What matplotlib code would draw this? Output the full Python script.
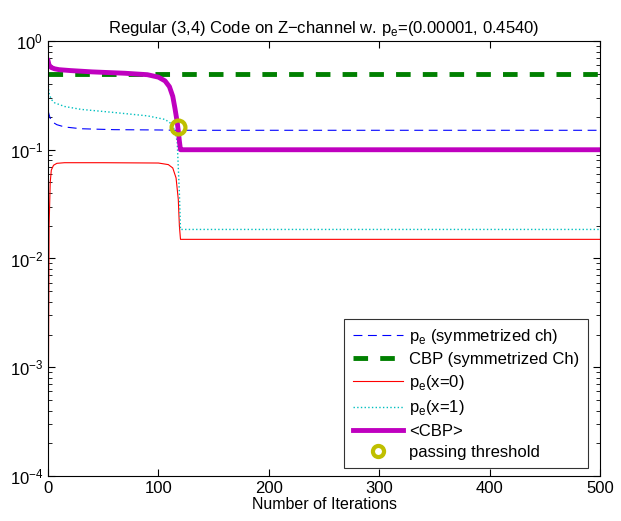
import matplotlib
matplotlib.use("Agg")
import matplotlib.pyplot as plt
from matplotlib.ticker import LogLocator, NullFormatter

plt.rcParams['font.family'] = ['Liberation Sans', 'DejaVu Sans']

# pe on symmetrized channel
it_pe = [0, 1, 2, 4, 8, 15, 30, 60, 100, 119, 500]
pe_sym = [0.23, 0.21, 0.195, 0.18, 0.17, 0.162, 0.156, 0.153, 0.152, 0.151, 0.151]

# CBP on symmetrized channel
it_cbp = [0, 500]
cbp_sym = [0.5, 0.5]

# pe(x=0)
it_x0 = [0, 1, 2, 3, 5, 8, 15, 50, 100, 109, 113, 116, 118, 119, 120, 500]
pe_x0 = [0.0001, 0.02, 0.05, 0.065, 0.072, 0.075, 0.076, 0.076, 0.0755, 0.073, 0.068, 0.055, 0.035, 0.02, 0.015, 0.015]

# pe(x=1)
it_x1 = [0, 1, 3, 6, 15, 30, 60, 90, 106, 113, 117, 119, 120, 500]
pe_x1 = [0.42, 0.33, 0.29, 0.27, 0.25, 0.235, 0.22, 0.205, 0.19, 0.17, 0.12, 0.04, 0.0185, 0.0185]

# <CBP>
it_avg = [0, 1, 3, 6, 10, 20, 40, 70, 90, 100, 106, 110, 113, 115, 117, 118, 119, 120, 121, 500]
cbp_avg = [0.66, 0.6, 0.57, 0.555, 0.545, 0.535, 0.52, 0.505, 0.49, 0.465, 0.43, 0.38, 0.31, 0.24, 0.18, 0.15, 0.12, 0.1, 0.1, 0.1]

# passing threshold
thr_it = [118]
thr_val = [0.163]

fig = plt.figure(figsize=(6.21, 5.21), dpi=100)
ax = fig.add_axes([0.0773, 0.0864, 0.8889, 0.8349])

ax.semilogy(it_pe, pe_sym, '--', color='b', lw=0.8, dashes=(8, 5), label='p$_\\mathregular{e}$ (symmetrized ch)')
ax.semilogy(it_cbp, cbp_sym, '--', color=(0, 0.5, 0), lw=3.5, dashes=(3, 2.5), label='CBP (symmetrized Ch)')
ax.semilogy(it_x0, pe_x0, '-', color='r', lw=0.8, label='p$_\\mathregular{e}$(x=0)')
ax.semilogy(it_x1, pe_x1, ':', color='c', lw=1.0, label='p$_\\mathregular{e}$(x=1)')
ax.semilogy(it_avg, cbp_avg, '-', color=(0.75, 0, 0.75), lw=3.5, label='<CBP>')
ax.semilogy(thr_it, thr_val, 'o', color=(0.75, 0.75, 0), mfc='none', mew=3, ms=10, label='passing threshold')

ax.set_xlim(0, 500)
ax.set_ylim(1e-4, 1)
ax.set_xticks([0, 100, 200, 300, 400, 500])
ax.yaxis.set_minor_locator(LogLocator(base=10, subs=range(2, 10)))
ax.yaxis.set_minor_formatter(NullFormatter())
ax.tick_params(which='both', direction='in', top=True, right=True, labelsize=12)
ax.tick_params(which='major', length=5)
ax.tick_params(which='minor', length=3)

ax.set_title('Regular (3,4) Code on Z\u2212channel w. p$_\\mathregular{e}$=(0.00001, 0.4540)', fontsize=12)
ax.set_xlabel('Number of Iterations', fontsize=11.5, labelpad=1)

leg = ax.legend(loc='lower right', bbox_to_anchor=(0.978, 0.018), fontsize=12, fancybox=False,
                edgecolor='k', handlelength=3, borderaxespad=0, labelspacing=0.37,
                borderpad=0.5, handletextpad=0.4)
leg.get_frame().set_linewidth(0.8)
leg.legend_handles[5].set_markersize(8)

fig.savefig('out.png', dpi=100)
